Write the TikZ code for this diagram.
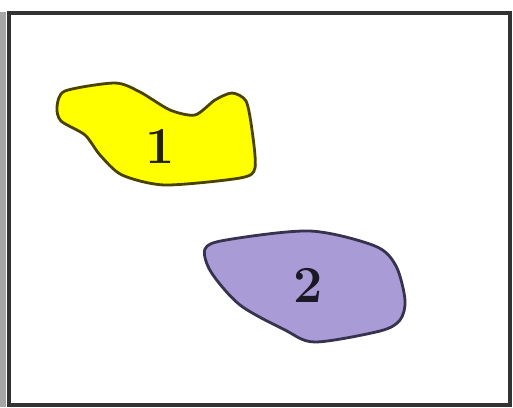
\documentclass[tikz,border=0pt]{standalone}
\usepackage{xcolor}
\usepackage{tikz}
\definecolor{cYellow}{HTML}{FFFF00}
\definecolor{cOlive}{HTML}{4A4300}
\definecolor{cLilac}{HTML}{A99BD6}
\definecolor{cInk}{HTML}{37324D}
\definecolor{cFrame}{HTML}{333333}

\begin{document}
\begin{tikzpicture}[
    x=1pt, y=-1pt,
    region/.style={fill=#1, line width=2.8pt, line join=round},
    num/.style={font=\fontsize{52}{52}\selectfont\bfseries, text=#1},
  ]
  \useasboundingbox (0,0) rectangle (513,407);
  \fill[white] (0,0) rectangle (513,407);
  \fill[black!35] (0,12) rectangle (6,407);

  % ── FRAME ──
  \draw[cFrame, line width=4pt] (9,13) rectangle (510,405);

  % ── REGION 1 ──
  \draw[region=cYellow, draw=cOlive] plot[smooth cycle, tension=0.45] coordinates {
      (57,107) (65,91) (115,83) (140,92) (170,110) (195,115)
      (215,100) (232,93) (246,101) (252,130) (255,168) (240,178)
      (165,185) (122,175) (100,155) (85,135) (61,121)};
  \node[num=cOlive!50!black] (r1) at (160,146) {1};

  % ── REGION 2 ──
  \draw[region=cLilac, draw=cInk] plot[smooth cycle, tension=0.5] coordinates {
      (205,249) (226,240) (310,231) (375,246) (396,266) (405,300)
      (400,320) (380,331) (315,342) (285,330) (240,305) (211,272)};
  \node[num=cInk!50!black] (r2) at (308,285) {2};
\end{tikzpicture}
\end{document}
